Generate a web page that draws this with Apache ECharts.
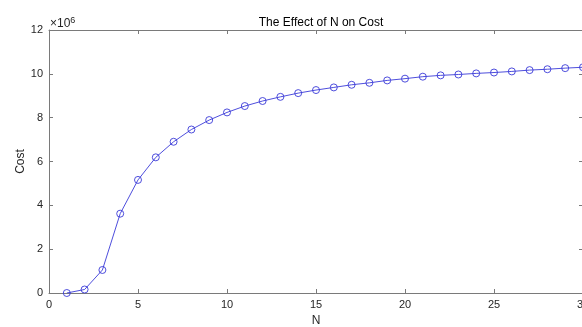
<!DOCTYPE html>
<html>
<head>
<meta charset="utf-8">
<script src="https://cdn.jsdelivr.net/npm/echarts@6/dist/echarts.min.js"></script>
<style>html,body{margin:0;padding:0;background:#fff}#c{width:582px;height:327px}</style>
</head>
<body>
<div id="c"></div>
<script>
const nValues = [1,2,3,4,5,6,7,8,9,10,11,12,13,14,15,16,17,18,19,20,21,22,23,24,25,26,27,28,29,30];
const costValues = [0.00e6,0.16e6,1.05e6,3.62e6,5.16e6,6.19e6,6.90e6,7.46e6,7.89e6,8.24e6,8.53e6,8.76e6,8.95e6,9.12e6,9.26e6,9.38e6,9.50e6,9.59e6,9.70e6,9.78e6,9.87e6,9.93e6,9.97e6,10.02e6,10.06e6,10.11e6,10.17e6,10.21e6,10.26e6,10.30e6];
const xTicks = {min:0, max:30, interval:5};
const yTicks = {min:0, max:12e6, interval:2e6};

const FONT = "'Liberation Sans', Arial, Helvetica, sans-serif";
const AX = '#7a7a7a';
const TXT = '#262626';
const chart = echarts.init(document.getElementById('c'), null, {renderer:'canvas'});
const common = () => ({
  axisLine:{show:true, onZero:false, lineStyle:{color:AX, width:1}},
  axisTick:{show:true, inside:true, length:4, lineStyle:{color:AX}},
  splitLine:{show:false}
});
chart.setOption({
  animation:false,
  backgroundColor:'#fff',
  title:{text:'The Effect of N on Cost', left:316, top:12, textAlign:'center',
    textStyle:{fontFamily:FONT, fontSize:12, fontWeight:'normal', color:'#000'}},
  graphic:[{type:'text', left:50, top:16, style:{
    text:'×10{s|6}', fontFamily:FONT, fontSize:12, fill:TXT,
    rich:{s:{fontSize:9, verticalAlign:'top', padding:[0,0,6,0], fontFamily:FONT, fill:TXT}}}}],
  grid:{left:49, top:30, width:534, height:263, containLabel:false, outerBoundsMode:'none'},
  xAxis:[
    Object.assign({type:'value', position:'bottom', min:xTicks.min, max:xTicks.max, interval:xTicks.interval,
      name:'N', nameLocation:'middle', nameGap:22, nameMoveOverlap:false,
      nameTextStyle:{fontFamily:FONT, fontSize:12, color:TXT},
      axisLabel:{fontFamily:FONT, fontSize:11, color:TXT, margin:6}}, common()),
    Object.assign({type:'value', position:'top', min:xTicks.min, max:xTicks.max, interval:xTicks.interval,
      axisLabel:{show:false}}, common())
  ],
  yAxis:[
    Object.assign({type:'value', position:'left', min:yTicks.min, max:yTicks.max, interval:yTicks.interval,
      name:'Cost', nameLocation:'middle', nameGap:22, nameMoveOverlap:false,
      nameTextStyle:{fontFamily:FONT, fontSize:12, color:TXT},
      axisLabel:{fontFamily:FONT, fontSize:11, color:TXT, margin:6, formatter:v=>String(v/1e6)}}, common()),
    Object.assign({type:'value', position:'right', min:yTicks.min, max:yTicks.max, interval:yTicks.interval,
      axisLabel:{show:false}}, common())
  ],
  series:[{
    type:'line', xAxisIndex:0, yAxisIndex:0,
    data:nValues.map((n,i)=>[n, costValues[i]]),
    lineStyle:{color:'#3a3ad8', width:0.9},
    symbol:'circle', symbolSize:7, showAllSymbol:true,
    itemStyle:{color:'rgba(0,0,0,0)', borderColor:'#3a3ad8', borderWidth:0.9},
    clip:false
  }]
});
</script>
</body>
</html>
